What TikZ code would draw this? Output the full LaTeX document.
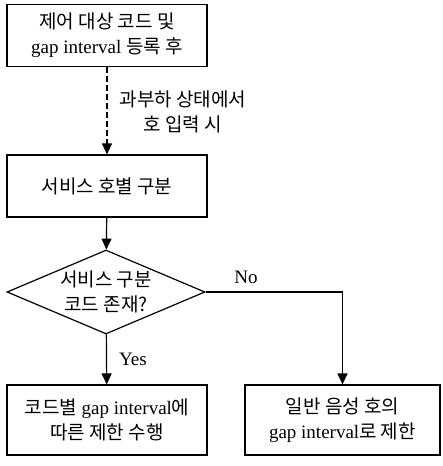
\documentclass[tikz,border=0pt]{standalone}
\usepackage{fontspec}
\setmainfont{Liberation Serif}
\newfontfamily\kr{Noto Sans CJK KR}
\usetikzlibrary{shapes.geometric,arrows.meta}
\tikzset{
  box/.style={draw,line width=1.2pt,align=center,minimum width=200pt,minimum height=62pt,inner sep=0pt},
  dec/.style={draw,diamond,line width=1.2pt,align=center,minimum width=198pt,minimum height=84pt,aspect=2.36,inner sep=0pt},
  arr/.style={line width=1.2pt,-{Triangle[length=11pt,width=10pt]}},
}
\begin{document}
\begin{tikzpicture}[x=1pt,y=-1pt,font=\fontsize{19}{25}\selectfont]
\useasboundingbox (0,0) rectangle (442,466);
\node[box] (reg) at (107,35.5){{\kr 제어 대상 코드 및}\\gap interval {\kr 등록 후}};
\node[box] (sort) at (107,186){\kr 서비스 호별 구분};
\node[dec] (chk) at (106,292){{\kr 서비스 구분}\\{\kr 코드 존재?}};
\node[box,minimum height=70pt] (yesres) at (107,420){{\kr 코드별} gap interval{\kr 에}\\{\kr 따른 제한 수행}};
\node[box,minimum width=195pt,minimum height=70pt] (nores) at (342.5,420){{\kr 일반 음성 호의}\\gap interval{\kr 로 제한}};
\node[align=center,anchor=west] (over) at (116,112){{\kr 과부하 상태에서}\\{\kr 호 입력 시}};
\node (no) at (246,277){No};
\node (yes) at (133,359){Yes};
\coordinate (bend) at (nores.north |- chk.east);

\draw[arr,dash pattern=on 6pt off 3pt] (reg)--(sort);
\draw[arr] (sort)--(chk);
\draw[arr] (chk)--(yesres);
\draw[arr] (chk.east)--(bend)--(nores.north);
\end{tikzpicture}
\end{document}
